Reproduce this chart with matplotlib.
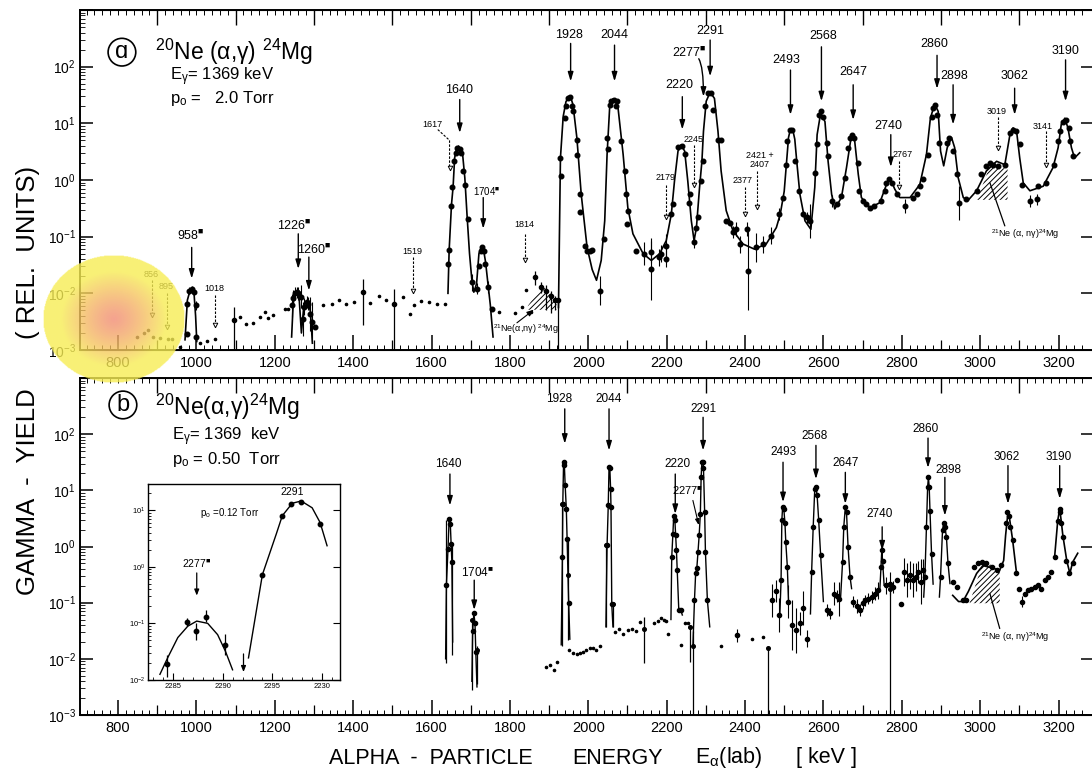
import numpy as np
import matplotlib
matplotlib.use('Agg')
import matplotlib.pyplot as plt
from matplotlib.patches import Polygon
from matplotlib.ticker import LogLocator, NullFormatter, NullLocator

plt.rcParams['font.family'] = ['Liberation Sans', 'DejaVu Sans']
plt.rcParams['mathtext.fontset'] = 'custom'
plt.rcParams['mathtext.rm'] = 'Liberation Sans'
plt.rcParams['mathtext.it'] = 'Liberation Sans:italic'
plt.rcParams['mathtext.bf'] = 'Liberation Sans:bold'
plt.rcParams['mathtext.default'] = 'regular'
plt.rcParams['mathtext.fallback'] = 'stixsans'
plt.rcParams['hatch.linewidth'] = 0.7

# ---------------------------------------------------------------------------
# Excitation functions, energies in keV, yields stored as log10(rel. units)
# ---------------------------------------------------------------------------
# (a) p0 = 2.0 Torr : fitted curve segments
A_CURVE_958 = np.array([
    [971, -2.82], [977, -2.12], [983, -1.97], [988, -1.93], [994, -2.00],
    [998, -2.40], [1001, -2.85]])
A_CURVE_1226 = np.array([
    [1243, -2.77], [1247, -2.18], [1251, -2.02], [1256, -1.98], [1262, -2.06],
    [1268, -2.70], [1274, -2.24], [1280, -2.14], [1285, -2.15], [1291, -2.32],
    [1296, -2.88]])
A_CURVE_1640 = np.array([
    [1642, -2.00], [1645, -1.24], [1651, -0.43], [1655, -0.13], [1659, 0.39],
    [1664, 0.55], [1669, 0.60], [1674, 0.56], [1679, 0.48], [1685, 0.04],
    [1691, -0.66], [1697, -1.30], [1703, -1.77], [1708, -1.98], [1715, -1.83],
    [1721, -1.30], [1727, -1.19], [1733, -1.24], [1738, -1.45], [1744, -1.83],
    [1750, -2.20], [1757, -2.77]])
A_CURVE_MAIN = np.array([
    [1924, -2.25], [1929, 0.39], [1936, 1.12], [1943, 1.38], [1950, 1.47],
    [1956, 1.44], [1961, 1.33], [1971, 0.74], [1982, -0.25], [1997, -1.19],
    [2010, -1.58], [2021, -1.77], [2033, -1.42], [2042, -0.72], [2048, 0.45],
    [2055, 1.33], [2063, 1.43], [2069, 1.40], [2076, 1.27], [2089, 0.45],
    [2101, -0.49], [2114, -0.95], [2140, -1.30], [2161, -1.42], [2182, -1.30],
    [2199, -1.07], [2212, -0.60], [2220, -0.02], [2229, 0.51], [2237, 0.62],
    [2246, 0.51], [2254, -0.02], [2263, -0.72], [2270, -1.07], [2276, -0.84],
    [2284, -0.13], [2290, 0.33], [2294, 0.86], [2301, 1.39], [2311, 1.55],
    [2322, 1.44], [2331, 0.86], [2339, 0.16], [2352, -0.54], [2369, -0.89],
    [2395, -1.13], [2424, -1.22], [2454, -1.13], [2480, -0.84], [2490, -0.60],
    [2500, -0.20], [2507, 0.40], [2511, 0.75], [2516, 0.90], [2522, 0.88],
    [2527, 0.72], [2532, 0.33], [2540, -0.25], [2553, -0.72], [2568, -0.87],
    [2578, -0.13], [2584, 0.80], [2593, 1.18], [2604, 1.03], [2612, 0.33],
    [2621, -0.25], [2629, -0.51], [2646, -0.31], [2659, 0.22], [2672, 0.81],
    [2680, 0.68], [2689, 0.10], [2697, -0.31], [2719, -0.49], [2744, -0.40],
    [2761, -0.08], [2770, 0.04], [2782, -0.16], [2795, -0.31], [2821, -0.31],
    [2846, -0.08], [2863, 0.45], [2873, 1.09], [2884, 1.34], [2893, 1.21],
    [2899, 0.51], [2907, 0.25], [2916, 0.57], [2927, 0.75], [2935, 0.57],
    [2944, 0.04], [2957, -0.31], [2969, -0.36], [2991, -0.19], [3016, 0.16],
    [3042, 0.33], [3063, 0.27], [3076, 0.80], [3084, 0.92], [3093, 0.86],
    [3101, 0.39], [3110, -0.05], [3127, -0.19], [3161, -0.11], [3186, 0.22],
    [3199, 0.57], [3207, 0.98], [3216, 1.09], [3224, 0.92], [3233, 0.57],
    [3241, 0.39], [3254, 0.48]])

# (a) measured points: energy, log yield, error half width (decades)
A_POINTS = np.array([
    [975, -2.18, 0], [982, -1.95, 0.06], [988, -1.92, 0.05], [994, -1.98, 0],
    [998, -2.21, 0.08], [999, -2.77, 0], [975, -2.71, 0],
    [1243, -2.21, 0.2], [1247, -2.09, 0.15], [1251, -2.00, 0.12],
    [1256, -1.98, 0.1], [1260, -2.00, 0.12], [1266, -2.06, 0.2],
    [1272, -2.45, 0.3], [1274, -2.24, 0.15], [1281, -2.15, 0.1],
    [1285, -2.18, 0.12], [1291, -2.36, 0.3], [1296, -2.50, 0.35],
    [1302, -2.59, 0],
    [1642, -1.48, 0], [1645, -1.24, 0], [1651, -0.46, 0], [1653, -0.13, 0],
    [1657, 0.33, 0], [1662, 0.48, 0], [1666, 0.57, 0], [1672, 0.54, 0],
    [1676, 0.48, 0], [1681, 0.16, 0], [1685, -0.08, 0], [1692, -0.69, 0],
    [1704, -1.80, 0.15], [1715, -1.92, 0.1], [1721, -1.51, 0],
    [1726, -1.25, 0], [1730, -1.19, 0], [1733, -1.25, 0], [1736, -1.48, 0],
    [1744, -1.89, 0.1], [1755, -2.27, 0],
    [1929, 0.39, 0], [1931, 0.07, 0], [1940, 1.09, 0], [1944, 1.30, 0],
    [1948, 1.44, 0], [1954, 1.47, 0], [1959, 1.30, 0], [1961, 1.22, 0],
    [1971, 0.71, 0], [1970, 0.45, 0], [1978, -0.25, 0], [1980, -0.56, 0],
    [1991, -1.16, 0], [1997, -1.25, 0], [2004, -1.25, 0], [2010, -1.23, 0],
    [2029, -1.95, 0.25], [2040, -1.04, 0], [2048, 0.74, 0], [2050, 0.54, 0],
    [2055, 1.33, 0], [2059, 1.39, 0], [2065, 1.42, 0], [2070, 1.30, 0],
    [2073, 1.40, 0], [2084, 0.68, 0], [2093, 0.16, 0], [2097, -0.25, 0],
    [2101, -0.54, 0], [2100, -0.78, 0], [2121, -1.25, 0],
    [2141, -1.30, 0.2], [2161, -1.27, 0.2], [2161, -1.57, 0.55],
    [2180, -1.36, 0.15], [2186, -1.30, 0.15], [2199, -1.16, 0.2],
    [2199, -1.39, 0.15], [2212, -0.60, 0], [2216, -0.43, 0], [2230, 0.58, 0],
    [2239, 0.60, 0], [2246, 0.46, 0], [2257, -0.40, 0], [2259, -0.25, 0],
    [2270, -1.10, 0.1], [2276, -0.84, 0], [2280, -0.65, 0], [2288, -0.02, 0],
    [2294, 0.33, 0], [2298, 1.30, 0], [2305, 1.53, 0], [2314, 1.53, 0],
    [2318, 1.24, 0], [2331, 0.71, 0], [2339, 0.71, 0], [2352, -0.72, 0],
    [2361, -0.75, 0], [2369, -0.92, 0.1], [2378, -0.86, 0.12],
    [2386, -1.13, 0.15], [2405, -0.86, 0.12], [2407, -1.60, 0.7],
    [2428, -1.19, 0.25], [2445, -1.13, 0.15], [2467, -0.98, 0.15],
    [2487, -0.60, 0.1], [2496, -0.31, 0], [2504, 0.27, 0], [2508, 0.68, 0],
    [2515, 0.89, 0], [2521, 0.89, 0], [2527, 0.33, 0], [2538, -0.19, 0],
    [2549, -0.60, 0], [2559, -0.66, 0.1], [2567, -0.72, 0.3], [2578, 0.13, 0],
    [2583, 0.63, 0], [2588, 1.15, 0], [2593, 1.21, 0], [2600, 1.12, 0],
    [2608, 0.65, 0], [2612, 0.42, 0], [2623, -0.37, 0.1], [2635, -0.43, 0],
    [2646, -0.28, 0], [2655, 0.04, 0], [2663, 0.57, 0], [2668, 0.74, 0],
    [2674, 0.79, 0], [2678, 0.74, 0], [2689, 0.30, 0], [2691, -0.19, 0],
    [2702, -0.37, 0], [2710, -0.43, 0], [2720, -0.49, 0], [2729, -0.46, 0],
    [2748, -0.37, 0], [2757, -0.19, 0], [2761, -0.05, 0], [2768, 0.01, 0],
    [2774, -0.06, 0], [2788, -0.25, 0], [2808, -0.46, 0.12], [2829, -0.31, 0],
    [2838, -0.25, 0], [2846, -0.11, 0], [2853, 0.01, 0], [2867, 0.45, 0],
    [2876, 1.12, 0], [2880, 1.27, 0], [2884, 1.33, 0], [2890, 1.15, 0],
    [2895, 0.65, 0], [2916, 0.65, 0], [2921, 0.74, 0], [2931, 0.51, 0],
    [2940, 0.10, 0], [2946, -0.40, 0.3], [2965, -0.34, 0], [2991, -0.19, 0],
    [3003, 0.10, 0], [3016, 0.25, 0], [3025, 0.30, 0], [3033, 0.27, 0],
    [3046, 0.25, 0], [3063, 0.27, 0], [3077, 0.83, 0], [3084, 0.89, 0],
    [3091, 0.86, 0], [3101, 0.63, 0], [3108, -0.08, 0], [3127, -0.37, 0.1],
    [3145, -0.34, 0.1], [3148, -0.11, 0], [3169, -0.05, 0], [3188, 0.27, 0],
    [3199, 0.68, 0], [3205, 0.86, 0], [3212, 1.03, 0], [3218, 1.06, 0],
    [3228, 0.92, 0], [3230, 0.68, 0], [3237, 0.42, 0]])

# (a) off-resonance background points (small dots)
A_DOTS = np.array([
    [848, -2.77], [866, -2.70], [877, -2.65], [890, -2.77], [907, -2.78],
    [927, -2.80], [937, -2.80], [958, -2.94], [1009, -2.88], [1026, -2.84],
    [1047, -2.81], [1111, -2.41], [1126, -2.54], [1145, -2.53], [1162, -2.41],
    [1175, -2.33], [1183, -2.44], [1196, -2.39], [1226, -2.27], [1234, -2.27],
    [1302, -2.59], [1323, -2.21], [1345, -2.19], [1364, -2.12], [1383, -2.18],
    [1402, -2.15], [1444, -2.17], [1465, -2.05], [1485, -2.12], [1526, -2.06],
    [1545, -2.36], [1556, -2.21], [1574, -2.13], [1594, -2.16], [1614, -2.19],
    [1635, -2.18], [1772, -2.33], [1812, -2.34], [1832, -2.24], [1842, -1.94],
    [1855, -2.33]])

# (a) isolated points with asymmetric bars: energy, log yield, upper, lower
A_BARS = np.array([
    [1096, -2.47, -2.24, -3.0], [1424, -1.98, -1.74, -2.56],
    [1505, -2.18, -1.92, -3.0], [1863, -1.72, -1.60, -1.85],
    [1880, -1.89, -1.80, -2.00], [1893, -1.95, -1.85, -2.30],
    [1905, -2.05, -1.95, -2.35], [1916, -2.12, -2.05, -2.30],
    [1922, -2.12, -2.10, -3.0]])

# 21Ne(a,ng)24Mg contributions (hatched)
A_HATCH_LOW = np.array([[1846, -2.29], [1846, -2.22], [1883, -1.86],
                        [1919, -2.11], [1919, -2.29]])
A_HATCH_HIGH = np.array([[2992, -0.35], [3025, 0.25], [3045, 0.22],
                         [3070, 0.20], [3070, -0.35]])

# (a) resonance markers (solid arrows)
A_RES_LABELS = ['958', '1226', '1260', '1640', '1704', '1928', '2044', '2220',
                '2291', '2493', '2568', '2647', '2740', '2860', '2898', '3062',
                '3190']
A_RES_X = [988, 1260, 1287, 1672, 1732, 1955, 2067, 2240, 2311, 2516, 2595,
           2676, 2772, 2890, 2931, 3088, 3218]
A_RES_TOP = [-1.19, -0.95, -1.36, 1.42, -0.31, 2.41, 2.38, 1.47, 2.47, 1.94,
             2.35, 1.68, 0.80, 2.20, 1.68, 1.62, 2.12]
A_RES_TIP = [-1.74, -1.57, -1.95, 0.83, -0.86, 1.74, 1.74, 0.89, 1.83, 1.15,
             1.39, 1.06, 0.23, 1.61, 0.98, 1.15, 1.39]
A_RES_LABEL_X = [985, 1250, 1300, 1670, 1740, 1950, 2067, 2232, 2311, 2506,
                 2599, 2676, 2765, 2884, 2935, 3088, 3218]
A_RES_LABEL_Y = [-0.98, -0.81, -1.23, 1.59, -0.20, 2.56, 2.56, 1.67, 2.63,
                 2.12, 2.54, 1.91, 0.96, 2.40, 1.84, 1.84, 2.27]
STARRED = ['958', '1226', '1260', '1704', '2277']

# (a) weak / unobserved resonances (dashed arrows)
A_WEAK_LABELS = ['856', '895', '1018', '1519', '1814', '2179', '2245', '2377',
                 '2767', '3019', '3141']
A_WEAK_X = [886, 926, 1047, 1553, 1838, 2199, 2269, 2401, 2793, 3046, 3169]
A_WEAK_TOP = [-1.77, -2.00, -2.03, -1.36, -0.95, -0.08, 0.61, -0.13, 0.33,
              1.12, 0.86]
A_WEAK_TIP = [-2.39, -2.59, -2.56, -1.95, -1.42, -0.66, -0.08, -0.60, -0.13,
              0.57, 0.27]
A_WEAK_LABEL_X = [884, 924, 1045, 1552, 1838, 2196, 2269, 2395, 2803, 3042,
                  3160]
A_WEAK_LABEL_Y = [-1.67, -1.88, -1.92, -1.27, -0.79, 0.05, 0.71, -0.01, 0.45,
                  1.21, 0.95]
A_1617_PATH = np.array([[1616, 0.89], [1646, 0.70], [1646, 0.22]])
A_2407_X, A_2407_TOP, A_2407_TIP = 2431, 0.16, -0.48

# (b) p0 = 0.50 Torr : narrow resonance profiles (points joined by lines)
B_PEAKS = [
    np.array([[1636, -2.0], [1638, -0.69], [1642, -0.05], [1645, 0.49],
              [1648, 0.40], [1650, 0.05], [1652, -0.27], [1654, -1.7]]),
    np.array([[1703, -2.4], [1705, -1.50], [1708, -1.19], [1711, -1.37],
              [1713, -1.87], [1716, -2.5]]),
    np.array([[1931, -1.75], [1934, -0.19], [1935, 0.76], [1937, 1.50],
              [1939, 1.45], [1941, 1.10], [1944, 0.67], [1946, 0.14],
              [1950, -1.0], [1953, -1.65]]),
    np.array([[2045, -1.43], [2048, 0.02], [2051, 0.73], [2053, 1.42],
              [2055, 1.40], [2057, 1.03], [2058, 0.70], [2060, -1.03],
              [2063, -1.43]]),
    np.array([[2211, -1.30], [2213, -0.19], [2216, 0.23], [2218, 0.54],
              [2221, 0.47], [2223, 0.20], [2225, -0.07], [2227, -0.42],
              [2231, -1.13], [2236, -1.13], [2240, -1.22]]),
    np.array([[2267, -1.78], [2271, -0.96], [2274, -0.48], [2277, -0.39],
              [2280, -0.10], [2283, 0.20], [2286, 0.58], [2288, 1.23],
              [2290, 1.50], [2293, 1.50], [2294, 1.40], [2297, 0.61],
              [2299, -0.10], [2304, -0.96], [2310, -1.43]]),
    np.array([[2489, -1.19], [2492, -0.60], [2494, 0.47], [2496, 0.71],
              [2499, 0.67], [2502, 0.41], [2504, 0.08], [2508, -0.36],
              [2511, -0.98]]),
    np.array([[2567, -1.20], [2570, -0.45], [2574, 0.35], [2578, 1.03],
              [2581, 1.06], [2584, 0.91], [2588, 0.47], [2593, -0.16],
              [2600, -0.98]]),
    np.array([[2644, -0.90], [2649, -0.27], [2652, 0.35], [2656, 0.70],
              [2659, 0.61], [2663, -0.01], [2668, -0.54], [2672, -0.75]]),
    np.array([[2744, -0.78], [2747, -0.36], [2749, -0.07], [2751, -0.25],
              [2755, -0.69]]),
    np.array([[2856, -0.90], [2859, -0.54], [2863, 0.35], [2866, 1.06],
              [2868, 1.23], [2870, 1.06], [2872, 0.64], [2876, -0.13],
              [2880, -0.67]]),
    np.array([[2896, -0.90], [2899, -0.54], [2904, 0.29], [2907, 0.42],
              [2910, 0.35], [2914, 0.17], [2918, -0.30], [2923, -0.66]]),
]
B_CURVE_HIGH = np.array([
    [2930, -0.87], [2945, -0.98], [2956, -0.98], [2970, -0.80], [2991, -0.48],
    [3007, -0.34], [3024, -0.37], [3050, -0.42], [3060, -0.25], [3065, 0.20],
    [3071, 0.61], [3075, 0.50], [3083, 0.11], [3093, -0.48]])
B_CURVE_3190 = np.array([
    [3190, -0.19], [3198, 0.46], [3203, 0.67], [3207, 0.45], [3211, 0.20],
    [3221, -0.25], [3229, -0.48], [3236, -0.28], [3249, -0.12]])

B_POINTS = np.array([
    [2468, -0.96, 0.3], [2479, -0.79, 0.2], [2487, -1.22, 0.3],
    [2510, -0.98, 0.3], [2519, -1.40, 0.45], [2530, -1.49, 0.4],
    [2540, -1.37, 0.2], [2549, -1.10, 0.3], [2559, -1.64, 0.15],
    [2380, -1.58, 0.12], [2610, -1.13, 0.1], [2618, -1.19, 0.1],
    [2628, -0.84, 0.2], [2634, -0.88, 0.1], [2640, -0.93, 0.3],
    [2676, -0.98, 0.1], [2685, -1.06, 0.12], [2693, -1.13, 0.1],
    [2700, -1.01, 0.1], [2707, -0.96, 0.1], [2714, -0.93, 0.1],
    [2723, -0.90, 0.1], [2731, -0.84, 0.12], [2740, -0.78, 0.15],
    [2759, -0.69, 0.15], [2770, -0.66, 0.2], [2778, -0.72, 0.1],
    [2788, -0.60, 0], [2799, -1.03, 0], [2805, -0.45, 0.25],
    [2814, -0.60, 0.3], [2822, -0.51, 0.25], [2829, -0.60, 0.3],
    [2836, -0.54, 0.25], [2842, -0.45, 0.2], [2848, -0.63, 0.4],
    [2855, -0.42, 0.2], [2931, -0.63, 0], [2940, -0.72, 0],
    [2957, -0.96, 0], [2965, -0.96, 0], [2984, -0.36, 0], [2995, -0.30, 0],
    [3006, -0.27, 0], [3016, -0.30, 0], [3029, -0.36, 0], [3042, -0.42, 0],
    [3054, -0.33, 0], [3065, 0.41, 0], [3069, 0.61, 0], [3073, 0.55, 0],
    [3077, 0.35, 0], [3084, 0.11, 0], [3091, -0.48, 0], [3099, -0.75, 0],
    [3108, -0.98, 0.1], [3114, -0.84, 0], [3122, -0.78, 0], [3131, -0.75, 0],
    [3139, -0.72, 0], [3148, -0.69, 0], [3156, -0.75, 0], [3165, -0.60, 0],
    [3173, -0.54, 0], [3182, -0.45, 0], [3190, -0.19, 0], [3199, 0.46, 0],
    [3203, 0.67, 0], [3205, 0.61, 0], [3207, 0.41, 0], [3212, 0.17, 0],
    [3218, -0.25, 0], [3227, -0.47, 0], [3237, -0.29, 0]])

B_DOTS = np.array([
    [1891, -2.15], [1902, -2.11], [1912, -2.19], [1921, -2.05], [1952, -1.85],
    [1961, -1.90], [1970, -1.91], [1978, -1.89], [1987, -1.87], [1995, -1.84],
    [2004, -1.81], [2012, -1.80], [2021, -1.85], [2029, -1.78], [2067, -1.52],
    [2078, -1.46], [2089, -1.55], [2101, -1.48], [2111, -1.46], [2123, -1.50],
    [2131, -1.34], [2169, -1.36], [2178, -1.32], [2186, -1.28], [2192, -1.31],
    [2199, -1.32], [2203, -1.56], [2236, -1.75], [2246, -1.37], [2254, -1.36],
    [2260, -1.43], [2339, -1.78], [2418, -1.65], [2447, -1.62]])

# (b) long error bars: energy, log yield, upper, lower
B_BARS = np.array([
    [1637, -0.69, 0.47, -2.08], [1653, -0.27, 0.05, -1.93],
    [1704, -1.31, -1.31, -2.55], [1716, -1.84, -1.78, -2.45],
    [1932, 0.76, 0.76, -1.78], [1948, -0.50, 0.10, -1.67],
    [2046, 0.02, 0.02, -1.43], [2062, -1.03, -1.03, -1.43],
    [2141, -1.46, -1.25, -2.08], [2259, -1.43, -1.40, -2.05],
    [2266, -1.78, -1.50, -3.0], [2458, -1.81, -1.81, -3.0],
    [2770, -0.75, -0.75, -3.0]])
B_HATCH = np.array([[2973, -1.01], [3007, -0.28], [3030, -0.33],
                    [3050, -0.40], [3050, -1.01]])

B_RES_LABELS = ['1640', '1704', '1928', '2044', '2220', '2291', '2493', '2568',
                '2647', '2740', '2860', '2898', '3062', '3190']
B_RES_X = [1647, 1709, 1940, 2053, 2222, 2293, 2497, 2581, 2656, 2750, 2867,
           2910, 3071, 3203]
B_RES_TOP = [1.29, -0.60, 2.45, 2.45, 1.29, 2.30, 1.50, 1.80, 1.32, 0.35,
             1.93, 1.23, 1.44, 1.44]
B_RES_TIP = [0.73, -1.13, 1.83, 1.71, 0.58, 1.71, 0.79, 1.20, 0.76, -0.07,
             1.40, 0.55, 0.76, 0.85]
B_RES_LABEL_X = [1642, 1716, 1925, 2053, 2227, 2293, 2497, 2578, 2656, 2744,
                 2861, 2918, 3067, 3200]
B_RES_LABEL_Y = [1.46, -0.47, 2.62, 2.62, 1.47, 2.44, 1.68, 1.96, 1.48, 0.57,
                 2.10, 1.36, 1.59, 1.59]

# inset, p0 = 0.12 Torr: energy, log yield, upper, lower
INSET_POINTS = np.array([
    [2284.4, -1.72, -1.55, -1.95], [2286.4, -0.97, -0.90, -1.05],
    [2287.3, -1.13, -1.00, -1.30], [2288.3, -0.88, -0.77, -0.97],
    [2290.2, -1.38, -1.18, -1.55], [2294.0, -0.14, -0.14, -0.14],
    [2296.0, 0.90, 0.90, 0.90], [2296.9, 1.10, 1.10, 1.10],
    [2297.9, 1.15, 1.15, 1.15], [2299.8, 0.76, 0.76, 0.76]])
INSET_LIMIT = (2292.1, -1.54, -1.86)
INSET_CURVE_2277 = np.array([
    [2283.7, -1.90], [2284.5, -1.60], [2285.5, -1.25], [2286.5, -1.05],
    [2287.4, -0.96], [2288.5, -1.00], [2289.5, -1.20], [2290.3, -1.50],
    [2291.0, -1.82]])
INSET_CURVE_2291 = np.array([
    [2292.6, -1.61], [2294.0, -0.14], [2295.4, 0.58], [2296.0, 0.90],
    [2297.0, 1.12], [2297.9, 1.16], [2299.0, 1.04], [2299.8, 0.78],
    [2300.5, 0.37]])
INSET_XTICKS = [2285, 2290, 2295, 2300]
INSET_XTICKLABELS = ['2285', '2290', '2295', '2230']

X_TICKS = np.arange(800, 3201, 200)
Y_DECADES = [-3, -2, -1, 0, 1, 2, 3]


def dec(v):
    """log10 yield -> yield"""
    return np.power(10.0, np.asarray(v, dtype=float))


def star(label):
    return label + r'$^{■}$' if label in STARRED else label


def style_panel(ax):
    ax.set_yscale('log')
    ax.set_xlim(703, 3288)
    ax.set_ylim(1e-3, 1e3)
    for sp in ax.spines.values():
        sp.set_linewidth(1.4)
    ax.set_xticks(X_TICKS)
    ax.set_xticks(np.arange(720, 3280, 20), minor=True)
    ax.tick_params(axis='x', which='major', direction='in', length=11,
                   width=1.1, top=False, labelsize=10.5, pad=4)
    ax.tick_params(axis='x', which='minor', direction='in', length=3.5,
                   width=0.7, top=False)
    ax.set_yticks(dec(Y_DECADES))
    ax.set_yticklabels([r'$10^{%d}$' % d for d in Y_DECADES[:-1]] + [''])
    ax.yaxis.set_minor_locator(LogLocator(base=10, subs=np.arange(2, 10)))
    ax.yaxis.set_minor_formatter(NullFormatter())
    ax.tick_params(axis='y', which='major', direction='in', length=9,
                   width=1.1, right=True, labelsize=10, pad=3)
    ax.tick_params(axis='y', which='minor', direction='in', length=3.5,
                   width=0.6, right=False)
    # odd hundreds: medium ticks below, long ticks along the top edge
    sec_b = ax.secondary_xaxis('bottom')
    sec_b.set_xticks(np.arange(900, 3201, 200))
    sec_b.set_xticklabels([])
    sec_b.xaxis.set_minor_locator(NullLocator())
    sec_b.tick_params(direction='in', length=7, width=0.9)
    sec_t = ax.secondary_xaxis('top')
    sec_t.set_xticks(np.arange(900, 3201, 200))
    sec_t.set_xticklabels([])
    sec_t.set_xticks(np.arange(720, 3280, 20), minor=True)
    sec_t.tick_params(which='major', direction='in', length=11, width=1.0)
    sec_t.tick_params(which='minor', direction='in', length=3.5, width=0.7)


def curve(ax, arr, lw=1.2):
    ax.plot(arr[:, 0], dec(arr[:, 1]), '-', color='k', lw=lw, zorder=3)


def points(ax, arr, ms=3.3):
    ax.plot(arr[:, 0], dec(arr[:, 1]), 'o', color='k', ms=ms, ls='none',
            zorder=4)
    has_err = arr[:, 2] > 0
    ax.vlines(arr[has_err, 0], dec(arr[has_err, 1] - arr[has_err, 2]),
              dec(arr[has_err, 1] + arr[has_err, 2]), color='k', lw=0.8,
              zorder=4)


def bars(ax, arr, ms=3.0):
    ax.vlines(arr[:, 0], dec(arr[:, 3]), dec(arr[:, 2]), color='k', lw=0.9,
              zorder=4)
    ax.plot(arr[:, 0], dec(arr[:, 1]), 'o', color='k', ms=ms, ls='none',
            zorder=4)


def dots(ax, arr):
    ax.plot(arr[:, 0], dec(arr[:, 1]), 'o', color='k', ms=1.6, ls='none',
            zorder=4)


def hatch(ax, arr):
    ax.add_patch(Polygon(np.column_stack([arr[:, 0], dec(arr[:, 1])]),
                         closed=True, fill=False, hatch='//////',
                         edgecolor='k', lw=0, zorder=2))


def solid_arrows(ax, labels, xs, tops, tips, lx, ly, size):
    for lab, x, t0, t1, tx, ty in zip(labels, xs, tops, tips, lx, ly):
        ax.annotate('', xy=(x, dec(t1)), xytext=(x, dec(t0)),
                    arrowprops=dict(arrowstyle='-|>,head_length=0.6,'
                                    'head_width=0.18', color='k', lw=1.0,
                                    shrinkA=0, shrinkB=0, mutation_scale=9))
        fs = 7 if lab == '1704' and ax is ax_a else size
        ax.text(tx, dec(ty), star(lab), fontsize=fs, ha='center',
                va='center')


def weak_arrow(ax, xs, ys):
    ax.plot(xs, dec(ys), color='k', lw=0.8, ls=(0, (2.2, 1.4)), zorder=3)
    ax.plot(xs[-1], dec(ys[-1]), marker='v', ms=3.3, mfc='white', mec='k',
            mew=0.7, zorder=4)


fig = plt.figure(figsize=(10.92, 7.71), dpi=100)
fig.patch.set_facecolor('white')

# right spines sit just past the sheet edge, only their ticks show
ax_a = fig.add_axes([80 / 1092, 421 / 771, 1013 / 1092, 340 / 771])
ax_b = fig.add_axes([80 / 1092, 56 / 771, 1013 / 1092, 337 / 771])
style_panel(ax_a)
style_panel(ax_b)

# ---- panel (a) -------------------------------------------------------------
for seg in (A_CURVE_958, A_CURVE_1226, A_CURVE_1640, A_CURVE_MAIN):
    curve(ax_a, seg)
points(ax_a, A_POINTS)
dots(ax_a, A_DOTS)
bars(ax_a, A_BARS)
hatch(ax_a, A_HATCH_LOW)
hatch(ax_a, A_HATCH_HIGH)

solid_arrows(ax_a, A_RES_LABELS, A_RES_X, A_RES_TOP, A_RES_TIP,
             A_RES_LABEL_X, A_RES_LABEL_Y, 9)
ax_a.annotate('', xy=(2294, dec(1.47)), xytext=(2282, dec(2.14)),
              arrowprops=dict(arrowstyle='-|>,head_length=0.6,head_width=0.18',
                              color='k', lw=1.0, shrinkA=0, shrinkB=0,
                              mutation_scale=9,
                              connectionstyle='angle3,angleA=-60,angleB=90'))
ax_a.text(2258, dec(2.25), star('2277'), fontsize=9, ha='center',
          va='center')

for lab, x, t0, t1, tx, ty in zip(A_WEAK_LABELS, A_WEAK_X, A_WEAK_TOP,
                                  A_WEAK_TIP, A_WEAK_LABEL_X, A_WEAK_LABEL_Y):
    weak_arrow(ax_a, [x, x], [t0, t1])
    ax_a.text(tx, dec(ty), lab, fontsize=6.5, ha='center', va='center')
weak_arrow(ax_a, A_1617_PATH[:, 0], A_1617_PATH[:, 1])
ax_a.text(1601, dec(0.98), '1617', fontsize=6.5, ha='center', va='center')
weak_arrow(ax_a, [A_2407_X, A_2407_X], [A_2407_TOP, A_2407_TIP])
ax_a.text(2437, dec(0.35), '2421 +\n2407', fontsize=6.5, ha='center',
          va='center', linespacing=0.95)

ne21 = r'$^{21}$Ne (α, nγ)$^{24}$Mg'
ax_a.text(3115, dec(-0.95), ne21, fontsize=6.5, ha='center', va='center')
ax_a.annotate('', xy=(3025, dec(-0.05)), xytext=(3063, dec(-0.81)),
              arrowprops=dict(arrowstyle='-', color='k', lw=0.9,
                              shrinkA=0, shrinkB=0))
ax_a.text(1840, dec(-2.64), r'$^{21}$Ne(α,nγ) $^{24}$Mg', fontsize=6.5,
          ha='center', va='center')
ax_a.annotate('', xy=(1861, dec(-2.29)), xytext=(1818, dec(-2.52)),
              arrowprops=dict(arrowstyle='-|>,head_length=0.5,head_width=0.2',
                              color='k', lw=0.8, shrinkA=0, shrinkB=0,
                              mutation_scale=8))

ax_a.text(0.0414, 0.876, 'ɑ', transform=ax_a.transAxes, fontsize=17,
          ha='center', va='center',
          bbox=dict(boxstyle='circle,pad=0.12', fc='white', ec='k', lw=1.2))
ax_a.text(0.074, 0.876, r'$^{20}$Ne (α,γ) $^{24}$Mg',
          transform=ax_a.transAxes, fontsize=16.5, ha='left', va='center')
ax_a.text(0.0888, 0.803, r'E$_{γ}$= 1369 keV', transform=ax_a.transAxes,
          fontsize=12, ha='left', va='center')
ax_a.text(0.0888, 0.741, r'p$_{o}$ =   2.0 Torr', transform=ax_a.transAxes,
          fontsize=12, ha='left', va='center')

# ---- panel (b) -------------------------------------------------------------
for pk in B_PEAKS:
    curve(ax_b, pk, lw=1.0)
    ax_b.plot(pk[1:-1, 0], dec(pk[1:-1, 1]), 'o', color='k', ms=3.0,
              ls='none', zorder=4)
curve(ax_b, B_CURVE_HIGH)
curve(ax_b, B_CURVE_3190)
points(ax_b, B_POINTS, ms=3.0)
dots(ax_b, B_DOTS)
bars(ax_b, B_BARS, ms=2.6)
hatch(ax_b, B_HATCH)

solid_arrows(ax_b, B_RES_LABELS, B_RES_X, B_RES_TOP, B_RES_TIP,
             B_RES_LABEL_X, B_RES_LABEL_Y, 8.5)
ax_b.annotate('', xy=(2282, dec(0.38)), xytext=(2267, dec(0.82)),
              arrowprops=dict(arrowstyle='-|>,head_length=0.5,head_width=0.18',
                              color='k', lw=0.8, shrinkA=0, shrinkB=0,
                              mutation_scale=7))
ax_b.text(2254, dec(1.0), star('2277'), fontsize=8, ha='center', va='center')
ax_b.text(3090, dec(-1.61), ne21, fontsize=6.5, ha='center', va='center')
ax_b.annotate('', xy=(3025, dec(-0.84)), xytext=(3050, dec(-1.46)),
              arrowprops=dict(arrowstyle='-', color='k', lw=0.9,
                              shrinkA=0, shrinkB=0))

ax_b.text(0.0424, 0.92, 'b', transform=ax_b.transAxes, fontsize=17,
          ha='center', va='center',
          bbox=dict(boxstyle='circle,pad=0.12', fc='white', ec='k', lw=1.2))
ax_b.text(0.074, 0.914, r'$^{20}$Ne(α,γ)$^{24}$Mg',
          transform=ax_b.transAxes, fontsize=16.5, ha='left', va='center')
ax_b.text(0.0906, 0.825, r'E$_{γ}$= 1369  keV', transform=ax_b.transAxes,
          fontsize=12, ha='left', va='center')
ax_b.text(0.0906, 0.757, r'p$_{o}$ = 0.50  Torr', transform=ax_b.transAxes,
          fontsize=12, ha='left', va='center')

# ---- inset: 2277 / 2291 doublet at 0.12 Torr ------------------------------
axi = fig.add_axes([148 / 1092, 91 / 771, 192 / 1092, 196 / 771])
axi.set_yscale('log')
axi.set_xlim(2282.5, 2301.8)
axi.set_ylim(1e-2, 10 ** 1.46)
for sp in axi.spines.values():
    sp.set_linewidth(1.0)
axi.set_xticks(INSET_XTICKS)
axi.set_xticklabels(INSET_XTICKLABELS)
axi.set_xticks(np.arange(2283, 2302, 1), minor=True)
axi.set_yticks(dec([-2, -1, 0, 1]))
axi.set_yticklabels([r'$10^{-2}$', r'$10^{-1}$', r'$10^{0}$', r'$10^{1}$'])
axi.yaxis.set_minor_locator(LogLocator(base=10, subs=np.arange(2, 10)))
axi.yaxis.set_minor_formatter(NullFormatter())
axi.tick_params(which='major', direction='in', length=5, width=0.8,
                labelsize=5.5, right=True, pad=2)
axi.tick_params(which='minor', direction='in', length=2.5, width=0.6)
axi.tick_params(axis='y', which='minor', right=False)
curve(axi, INSET_CURVE_2277, lw=1.0)
curve(axi, INSET_CURVE_2291, lw=1.0)
axi.vlines(INSET_POINTS[:, 0], dec(INSET_POINTS[:, 3]),
           dec(INSET_POINTS[:, 2]), color='k', lw=0.9)
axi.plot(INSET_POINTS[:, 0], dec(INSET_POINTS[:, 1]), 'o', color='k',
         ms=3.2, ls='none')
axi.annotate('', xy=(INSET_LIMIT[0], dec(INSET_LIMIT[2])),
             xytext=(INSET_LIMIT[0], dec(INSET_LIMIT[1])),
             arrowprops=dict(arrowstyle='-|>,head_length=0.5,head_width=0.2',
                             color='k', lw=0.9, shrinkA=0, shrinkB=0,
                             mutation_scale=7))
axi.annotate('', xy=(2287.4, dec(-0.51)), xytext=(2287.4, dec(-0.11)),
             arrowprops=dict(arrowstyle='-|>,head_length=0.5,head_width=0.2',
                             color='k', lw=0.9, shrinkA=0, shrinkB=0,
                             mutation_scale=7))
axi.text(2287.4, dec(0.05), star('2277'), fontsize=7.5, ha='center',
         va='center')
axi.text(2297.0, dec(1.31), '2291', fontsize=7.5, ha='center', va='center')
axi.text(2290.7, dec(0.94), r'p$_{o}$ =0.12 Torr', fontsize=7, ha='center',
         va='center')

# ---- axis titles -----------------------------------------------------------
for txt, xc in [('ALPHA  -  PARTICLE', 431), ('ENERGY', 617),
                (r'E$_{α}$(lab)', 729), ('[ keV ]', 827)]:
    fig.text(xc / 1092, 1 - 758 / 771, txt, fontsize=15.5, ha='center',
             va='center')
for txt, yc in [('GAMMA  -  YIELD', 492), ('( REL.  UNITS)', 252)]:
    fig.text(28 / 1092, 1 - yc / 771, txt, fontsize=18.5, ha='center',
             va='center', rotation=90)

# ---- yellow marker-pen highlight over the low-energy corner ---------------
ov = fig.add_axes([0, 0, 1, 1], zorder=10)
ov.set_xlim(0, 1092)
ov.set_ylim(771, 0)
ov.axis('off')
ov.patch.set_alpha(0)
cx, cy, rx, ry = 114, 319, 71, 64
gx, gy = np.meshgrid(np.linspace(-1, 1, 200), np.linspace(-1, 1, 200))
r = np.hypot(gx, gy)
centre = np.array([0.95, 0.55, 0.45])
edge = np.array([0.97, 0.93, 0.33])
w = np.clip(r / 0.75, 0, 1)[..., None] ** 1.2
rgba = np.zeros((200, 200, 4))
rgba[..., :3] = centre * (1 - w) + edge * w
rgba[..., 3] = np.where(r <= 1.0, 0.8, 0.0)
ov.imshow(rgba, extent=(cx - rx, cx + rx, cy + ry, cy - ry),
          interpolation='bilinear', aspect='auto', zorder=10)

fig.savefig('out.png', dpi=100)
